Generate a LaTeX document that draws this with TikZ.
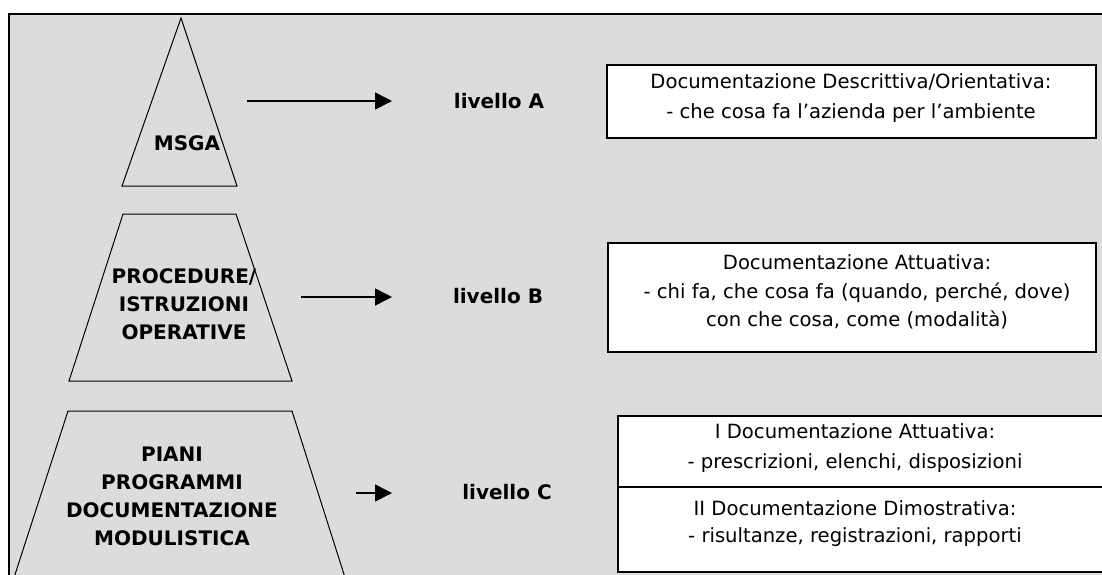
\documentclass[tikz,border=0pt]{standalone}
\usepackage{fontspec}
\setmainfont{DejaVu Sans}
\usetikzlibrary{arrows.meta}
\definecolor{bggray}{HTML}{DCDCDC}
\tikzset{
  shape line/.style={draw=black, line width=1pt},
  docbox/.style={draw=black, line width=1.3pt, fill=white},
  doctext/.style={align=center, inner sep=0pt, font=\fontsize{19.6}{30}\selectfont},
  pyrtext/.style={align=center, inner sep=0pt, font=\bfseries\fontsize{20}{28}\selectfont},
  lvtext/.style={inner sep=0pt, font=\bfseries\fontsize{20}{24}\selectfont},
  levarrow/.style={line width=1.5pt, -{Triangle[length=17pt,width=17pt]}}
}
\begin{document}
\begin{tikzpicture}[x=1pt,y=-1pt]
\useasboundingbox (0,0) rectangle (1102,574);
\clip (0,0) rectangle (1102,574);
\fill[white] (0,0) rectangle (1102,574);
\draw[fill=bggray, line width=1.5pt] (9,14) rectangle (1120,590);

% pyramid pieces
\draw[shape line] (181,18) -- (237,186) -- (122,186) -- cycle;
\draw[shape line] (123,214) -- (236,214) -- (292,381) -- (69,381) -- cycle;
\draw[shape line] (68,411) -- (292,411) -- (349,590) -- (10,590) -- cycle;

\node[pyrtext] (msga) at (187,143) {MSGA};
\node[pyrtext] (proc) at (184,304) {PROCEDURE/\\ISTRUZIONI\\OPERATIVE};
\node[pyrtext] (piani) at (172,496) {PIANI\\PROGRAMMI\\DOCUMENTAZIONE\\MODULISTICA};

% level labels
\node[lvtext] (lvA) at (499,101) {livello A};
\node[lvtext] (lvB) at (498,296) {livello B};
\node[lvtext] (lvC) at (507,492) {livello C};

% arrows
\coordinate (aS) at (247,101);
\coordinate (aE) at (392,101);
\coordinate (bS) at (301,297);
\coordinate (bE) at (392,297);
\coordinate (cS) at (356,493);
\coordinate (cE) at (392,493);
\draw[levarrow] (aS) -- (aE);
\draw[levarrow] (bS) -- (bE);
\draw[levarrow] (cS) -- (cE);

% boxes
\draw[docbox] (607,65) rectangle (1096,138);
\draw[docbox] (608,243) rectangle (1096,352);
\draw[docbox] (618,416) rectangle (1120,572);
\draw[line width=1.3pt] (618,487) -- (1120,487);

\node[doctext] (tA) at (851,98) {Documentazione Descrittiva/Orientativa:\\- che cosa fa l’azienda per l’ambiente};
\node[doctext, font=\fontsize{19.6}{28.5}\selectfont] (tB) at (857,292) {Documentazione Attuativa:\\- chi fa, che cosa fa (quando, perché, dove)\\con che cosa, come (modalità)};
\node[doctext] (tC1) at (855,448) {I Documentazione Attuativa:\\- prescrizioni, elenchi, disposizioni};
\node[doctext, font=\fontsize{19.6}{27}\selectfont] (tC2) at (855,524) {II Documentazione Dimostrativa:\\- risultanze, registrazioni, rapporti};
\end{tikzpicture}
\end{document}
